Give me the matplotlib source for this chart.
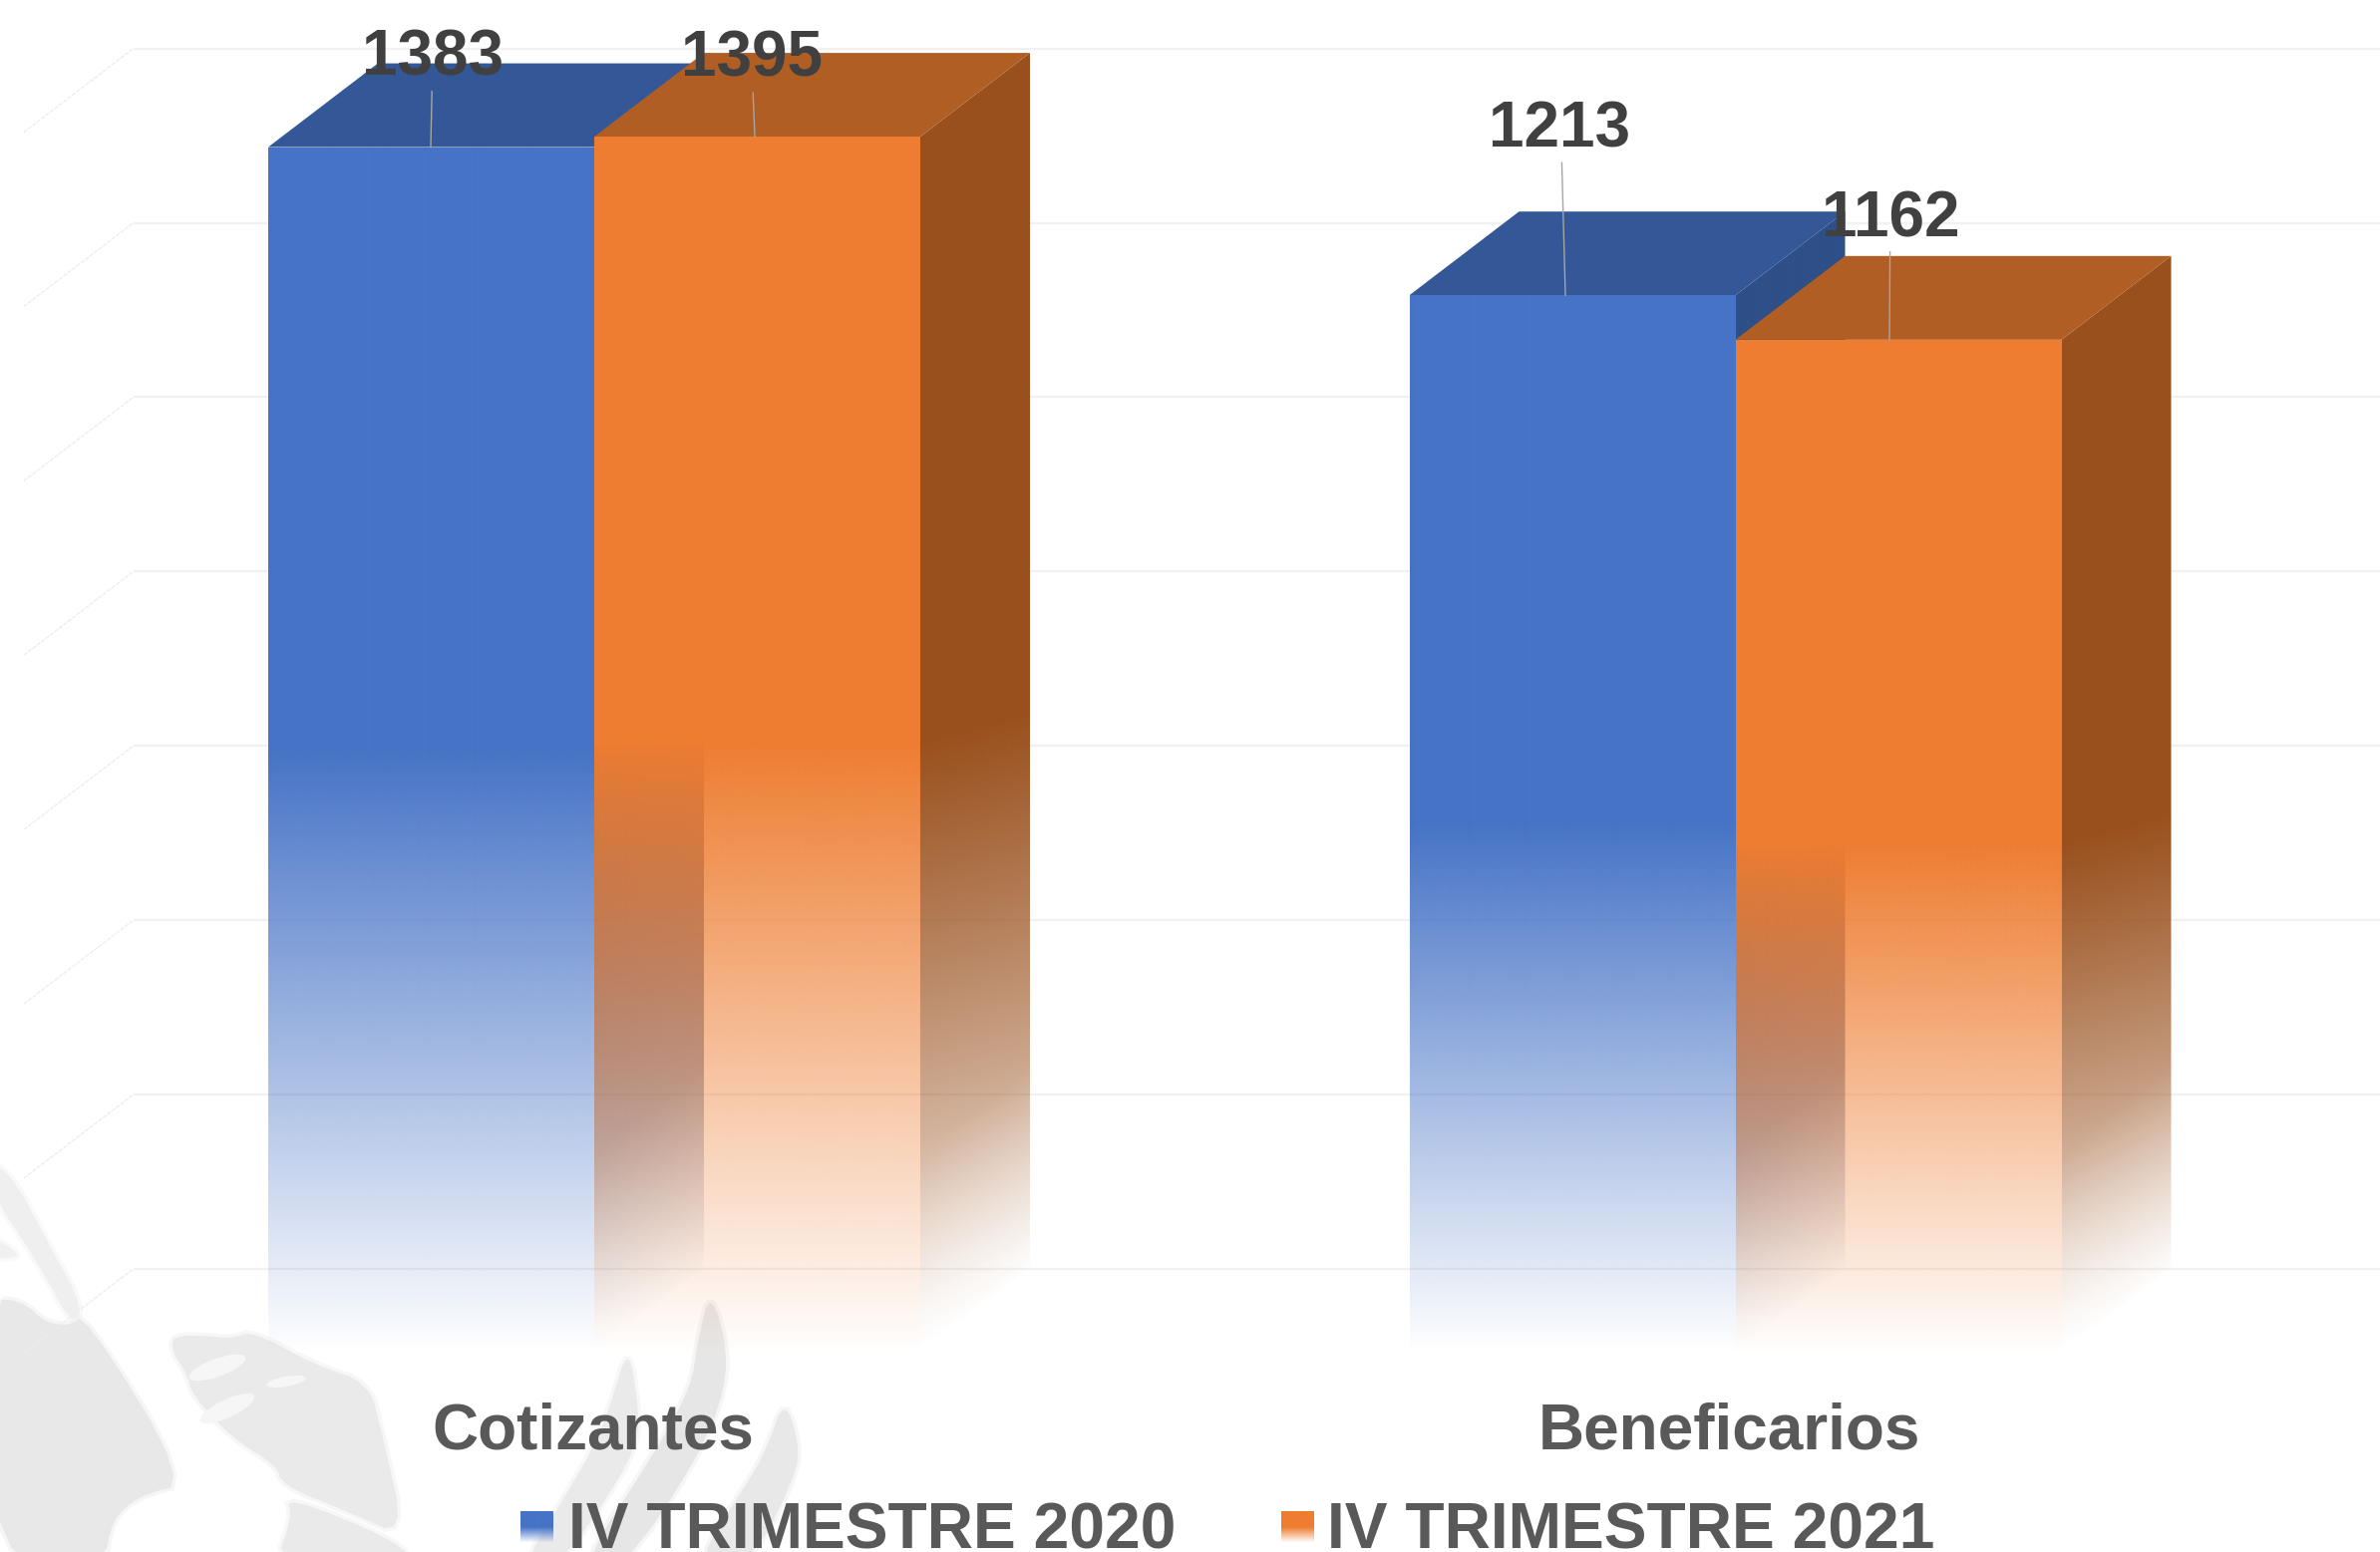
import matplotlib
matplotlib.use("Agg")
import matplotlib.colors as mcolors
import matplotlib.pyplot as plt
import matplotlib.transforms as mtransforms
import numpy as np
from matplotlib.patches import Ellipse, Polygon

categories = ["Cotizantes", "Beneficarios"]
series_names = ["IV TRIMESTRE 2020", "IV TRIMESTRE 2021"]
values_2020 = [1383, 1213]
values_2021 = [1395, 1162]
grid_ticks = [0, 200, 400, 600, 800, 1000, 1200, 1400]

W, H = 2387, 1557
X0_PX, UNIT_PX = 596.0, 327.0     # px of category 0 centre, px per bar width
Y0_PX, VAL_PX = 1357.0, 0.8745    # px of value 0 on the front plane, px per unit
GROUP_STEP = 3.5
DX = 110.0 / UNIT_PX              # 3D depth offset
DY = 84.0 / VAL_PX

COLOURS = [
    {"front": "#4673C6", "top": "#335797", "side": "#2E4F88"},
    {"front": "#EE7D31", "top": "#B05E24", "side": "#9A501D"},
]
# label position relative to bar top centre, in px: dx text, dx line end, text baseline rise, line start rise
LABEL_OFFS = {
    (0, 0): (1.5, -0.5, 72, 56),
    (0, 1): (-5.5, -2.5, 61, 44),
    (1, 0): (-13, -7, 149, 133),
    (1, 1): (-8, -9, 103, 88),
}
CAT_DX = [-1, -6]      # px nudge of the category labels
LEG_BOX_X = [522, 1285]
LEG_TEXT_X = [570, 1331]

fig = plt.figure(figsize=(W / 100, H / 100), dpi=100, facecolor="white")
ax = fig.add_axes([0, 0, 1, 1])
ax.axis("off")
xlim = ((0 - X0_PX) / UNIT_PX, (W - X0_PX) / UNIT_PX)
ylim = ((Y0_PX - H) / VAL_PX, Y0_PX / VAL_PX)

# pixel space (y down) for the decoration behind the chart
px_tf = (mtransforms.Affine2D().scale(1 / W, -1 / H).translate(0, 1) + ax.transAxes)


def soften(points, rounds=2):
    pts = np.asarray(points, dtype=float)
    for _ in range(rounds):
        nxt = np.roll(pts, -1, axis=0)
        pts = np.column_stack([0.75 * pts + 0.25 * nxt, 0.25 * pts + 0.75 * nxt]).reshape(-1, 2)
    return pts


def mark(points, colour="#E8E8E8", z=0.5):
    pts = soften(points)
    ax.add_patch(Polygon(pts, closed=True, fc="none", ec=colour, lw=5, alpha=0.35, transform=px_tf, zorder=z))
    ax.add_patch(Polygon(pts, closed=True, fc=colour, ec="none", transform=px_tf, zorder=z))


# --- watermark, bottom left ---
mark([(-10, 1303), (22, 1305), (46, 1327), (70, 1330), (85, 1318), (190, 1488), (140, 1500),
      (112, 1525), (105, 1570), (-10, 1570)])
mark([(-10, 1165), (14, 1182), (50, 1250), (84, 1312), (72, 1330), (40, 1270), (-10, 1195)], "#EFEFEF")
mark([(-10, 1240), (16, 1255), (18, 1262), (-10, 1262)], "#F0F0F0")
mark([(173, 1340), (207, 1340), (233, 1343), (253, 1335), (317, 1370), (370, 1387), (383, 1437),
      (407, 1543), (350, 1517), (283, 1490), (277, 1470), (233, 1443), (193, 1400), (187, 1377),
      (173, 1357)], "#EAEAEA")
for cx, cy, w, h, ang in [(218, 1372, 60, 18, -20), (228, 1413, 60, 18, -25), (287, 1386, 40, 10, -10)]:
    ax.add_patch(Ellipse((cx, cy), w, h, angle=ang, fc="#F6F6F6", ec="none", transform=px_tf, zorder=0.6))
mark([(287, 1500), (400, 1547), (415, 1570), (275, 1570), (293, 1523)], "#EAEAEA")
mark([(630, 1350), (640, 1407), (640, 1450), (600, 1517), (560, 1570), (525, 1570), (557, 1517),
      (597, 1450), (613, 1407)], "#EAEAEA")
mark([(712, 1296), (728, 1343), (728, 1393), (700, 1463), (625, 1575), (580, 1575), (653, 1463),
      (693, 1393), (700, 1343)], "#E6E6E6")
mark([(787, 1403), (802, 1450), (797, 1483), (753, 1570), (695, 1570), (753, 1483), (770, 1450)], "#E8E8E8")

# --- back wall gridlines and their run along the side wall ---
left_front = -1.75
for t in grid_ticks:
    ax.plot([left_front + DX, xlim[1]], [t + DY, t + DY], color="#F1F1F1", lw=1.6, zorder=1,
            solid_capstyle="butt")
    ax.plot([left_front, left_front + DX], [t, t + DY], color="#EDEDED", lw=1.0, ls=(0, (3, 1)), zorder=1)


def fade_face(verts, colour, alpha_fn, z):
    verts = np.asarray(verts, dtype=float)
    x0, x1 = verts[:, 0].min(), verts[:, 0].max()
    y0, y1 = verts[:, 1].min(), verts[:, 1].max()
    nx = max(2, int((x1 - x0) * UNIT_PX) + 1)
    ny = max(2, int((y1 - y0) * VAL_PX) + 1)
    xs, ys = np.meshgrid(np.linspace(x0, x1, nx), np.linspace(y0, y1, ny))
    rgba = np.zeros((ny, nx, 4))
    rgba[..., :3] = mcolors.to_rgb(colour)
    rgba[..., 3] = np.clip(alpha_fn(xs, ys), 0, 1)
    im = ax.imshow(rgba, extent=(x0, x1, y0, y1), origin="lower", aspect="auto",
                   interpolation="bilinear", zorder=z)
    clip = Polygon(verts, closed=True, transform=ax.transData, fc="none", ec="none")
    ax.add_patch(clip)
    im.set_clip_path(clip)


def draw_bar(left, value, cols, z):
    right = left + 1
    half = 0.5 * value
    front = [(left, 0), (right, 0), (right, value), (left, value)]
    side = [(right, 0), (right + DX, DY), (right + DX, value + DY), (right, value)]
    top = [(left, value), (right, value), (right + DX, value + DY), (left + DX, value + DY)]

    def side_alpha(x, y):
        u = (x - right) / DX
        local = np.clip((y - 0.35 * DY * u) / half, 0, 1)
        # dies out toward the slanted bottom edge of the side face
        edge = np.clip((y - DY * u) / 230.0, 0, 1)
        return local ** 0.8 * edge ** 0.6

    fade_face(side, cols["side"], side_alpha, z)
    ax.add_patch(Polygon(top, closed=True, fc=cols["top"], ec="none", zorder=z + 0.1))
    fade_face(front, cols["front"], lambda x, y: y / half, z + 0.2)


for g, vals in enumerate(zip(values_2020, values_2021)):
    centre = g * GROUP_STEP
    for s, v in enumerate(vals):
        draw_bar(centre - 1 + s, v, COLOURS[s], 2 + g + s * 0.4)

# --- data labels with leader lines ---
for g, vals in enumerate(zip(values_2020, values_2021)):
    centre = g * GROUP_STEP
    for s, v in enumerate(vals):
        mid = centre - 0.5 + s
        dx_txt, dx_end, rise_txt, rise_line = LABEL_OFFS[(g, s)]
        ax.plot([mid + dx_end / UNIT_PX + (dx_txt - dx_end) / UNIT_PX * 0.6, mid + dx_end / UNIT_PX],
                [v + rise_line / VAL_PX, v], color="#A6A6A6", lw=1.0, zorder=8)
        ax.text(mid + dx_txt / UNIT_PX, v + rise_txt / VAL_PX, str(v), ha="center", va="baseline",
                fontsize=46, fontweight="bold", family="Liberation Sans", color="#404040", zorder=9)

# --- category labels ---
for g, name in enumerate(categories):
    ax.text(g * GROUP_STEP + CAT_DX[g] / UNIT_PX, (Y0_PX - 1454) / VAL_PX, name, ha="center", va="baseline",
            fontsize=46, fontweight="bold", family="Liberation Sans", color="#595959", zorder=9)

# --- legend ---
for s, name in enumerate(series_names):
    x_l = (LEG_BOX_X[s] - X0_PX) / UNIT_PX
    x_r = (LEG_BOX_X[s] + 33 - X0_PX) / UNIT_PX
    y_b = (Y0_PX - 1548) / VAL_PX
    y_t = (Y0_PX - 1516) / VAL_PX
    fade_face([(x_l, y_b), (x_r, y_b), (x_r, y_t), (x_l, y_t)], COLOURS[s]["front"],
              lambda x, y: (y - y_b) / (0.5 * (y_t - y_b)), 8)
    ax.text((LEG_TEXT_X[s] - X0_PX) / UNIT_PX, (Y0_PX - 1553) / VAL_PX, name, ha="left", va="baseline",
            fontsize=46.2, fontweight="bold", family="Liberation Sans", color="#595959", zorder=9)

ax.set_xlim(*xlim)
ax.set_ylim(*ylim)
fig.savefig("out.png", dpi=100, facecolor="white")
